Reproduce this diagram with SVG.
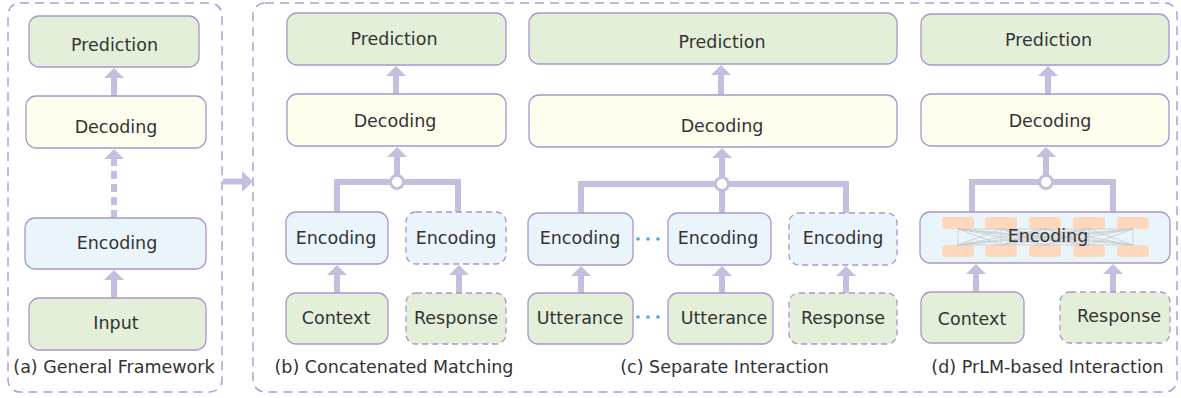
<svg xmlns="http://www.w3.org/2000/svg" width="1181" height="398" viewBox="0 0 1181 398">
<defs>
<style>
.panel{fill:none;stroke:#b39ddb;stroke-width:1.5;stroke-dasharray:9 6}
.box{stroke:#a996cc;stroke-width:1.3}
.dash{stroke-dasharray:6 4}
.g{fill:#e3efd9}
.y{fill:#fffdee}
.b{fill:#e9f4fb}
.t{font-family:"DejaVu Sans","Liberation Sans",sans-serif;font-size:17.5px;fill:#333;text-anchor:middle}
.shaft{fill:none;stroke:#c5bfdf;stroke-width:6}
.head{fill:#c5bfdf}
.node{fill:#fff;stroke:#c5bfdf;stroke-width:3}
.tok{fill:#fdd8bd}
.lnk{stroke:#c8c8c8;stroke-width:0.8}
.dot{fill:#4aa8d8}
</style>
</defs>
<rect class="panel" x="8" y="3" width="214" height="389" rx="12"/>
<rect class="panel" x="253" y="3" width="924" height="389" rx="12"/>

<g id="connectors">
<!-- big arrow between panels -->
<path class="shaft" d="M223,181.5H243"/>
<polygon class="head" points="242,171 242,192 253,181.5"/>
<!-- (a) -->
<path class="shaft" d="M114,77V96"/>
<polygon class="head" points="104,78 124,78 114,68"/>
<path class="shaft" d="M114,218V159" style="stroke-dasharray:8 5"/>
<polygon class="head" points="104,159 124,159 114,149"/>
<path class="shaft" d="M114,279V298"/>
<polygon class="head" points="104,280 124,280 114,270"/>
<!-- (b) -->
<path class="shaft" d="M396,75V94"/>
<polygon class="head" points="386,76 406,76 396,66"/>
<path class="shaft" d="M397,156V176"/>
<polygon class="head" points="387,157 407,157 397,147"/>
<path class="shaft" d="M337,212V182H458V212"/>
<circle class="node" cx="397" cy="182" r="6.5"/>
<path class="shaft" d="M337,274V293"/>
<polygon class="head" points="327,275 347,275 337,265"/>
<path class="shaft" d="M459,274V293"/>
<polygon class="head" points="449,275 469,275 459,265"/>
<!-- (c) -->
<path class="shaft" d="M721,74V95"/>
<polygon class="head" points="711,75 731,75 721,65"/>
<path class="shaft" d="M722,157V178"/>
<polygon class="head" points="712,158 732,158 722,148"/>
<path class="shaft" d="M581,213V184H846V213M722,190V213"/>
<circle class="node" cx="722" cy="184" r="6.5"/>
<path class="shaft" d="M581,275V293"/>
<polygon class="head" points="571,276 591,276 581,266"/>
<path class="shaft" d="M722,275V293"/>
<polygon class="head" points="712,276 732,276 722,266"/>
<path class="shaft" d="M846,275V293"/>
<polygon class="head" points="836,276 856,276 846,266"/>
<circle class="dot" cx="638" cy="239" r="1.8"/>
<circle class="dot" cx="648" cy="239" r="1.8"/>
<circle class="dot" cx="658" cy="239" r="1.8"/>
<circle class="dot" cx="638" cy="317" r="1.8"/>
<circle class="dot" cx="648" cy="317" r="1.8"/>
<circle class="dot" cx="658" cy="317" r="1.8"/>
<!-- (d) -->
<path class="shaft" d="M1048,75V94"/>
<polygon class="head" points="1038,76 1058,76 1048,66"/>
<path class="shaft" d="M1046,156V176"/>
<polygon class="head" points="1036,157 1056,157 1046,147"/>
<path class="shaft" d="M972,212V182H1113V212"/>
<circle class="node" cx="1046" cy="182" r="6.5"/>
<path class="shaft" d="M976,273V292"/>
<polygon class="head" points="966,274 986,274 976,264"/>
<path class="shaft" d="M1113,273V292"/>
<polygon class="head" points="1103,274 1123,274 1113,264"/>
</g>

<!-- (a) -->
<g id="a-prediction"><rect class="box g" x="29" y="16" width="170" height="51" rx="10"/><text class="t" x="114.5" y="51">Prediction</text></g>
<g id="a-decoding"><rect class="box y" x="26" y="96" width="180" height="52" rx="10"/><text class="t" x="116" y="133">Decoding</text></g>
<g id="a-encoding"><rect class="box b" x="25" y="218" width="181" height="51" rx="10"/><text class="t" x="117" y="249">Encoding</text></g>
<g id="a-input"><rect class="box g" x="29" y="298" width="177" height="52" rx="10"/><text class="t" x="116" y="329">Input</text></g>
<text class="t" x="114" y="373">(a) General Framework</text>

<!-- (b) -->
<g id="b-prediction"><rect class="box g" x="287" y="13" width="219" height="52" rx="10"/><text class="t" x="394" y="45">Prediction</text></g>
<g id="b-decoding"><rect class="box y" x="287" y="94" width="219" height="52" rx="10"/><text class="t" x="395" y="127">Decoding</text></g>
<g id="b-encoding1"><rect class="box b" x="286" y="212" width="102" height="52" rx="10"/><text class="t" x="336" y="244">Encoding</text></g>
<g id="b-encoding2"><rect class="box b dash" x="406" y="212" width="100" height="52" rx="10"/><text class="t" x="456" y="244">Encoding</text></g>
<g id="b-context"><rect class="box g" x="286" y="293" width="102" height="51" rx="10"/><text class="t" x="336" y="324">Context</text></g>
<g id="b-response"><rect class="box g dash" x="406" y="293" width="100" height="51" rx="10"/><text class="t" x="456" y="324">Response</text></g>
<text class="t" x="394" y="373">(b) Concatenated Matching</text>

<!-- (c) -->
<g id="c-prediction"><rect class="box g" x="529" y="13" width="368" height="51" rx="10"/><text class="t" x="722" y="48">Prediction</text></g>
<g id="c-decoding"><rect class="box y" x="529" y="95" width="368" height="52" rx="10"/><text class="t" x="722" y="132">Decoding</text></g>
<g id="c-encoding1"><rect class="box b" x="528" y="213" width="105" height="52" rx="10"/><text class="t" x="580" y="244">Encoding</text></g>
<g id="c-encoding2"><rect class="box b" x="668" y="213" width="103" height="52" rx="10"/><text class="t" x="718" y="244">Encoding</text></g>
<g id="c-encoding3"><rect class="box b dash" x="789" y="213" width="108" height="52" rx="10"/><text class="t" x="843" y="244">Encoding</text></g>
<g id="c-utterance1"><rect class="box g" x="528" y="293" width="105" height="51" rx="10"/><text class="t" x="580" y="324">Utterance</text></g>
<g id="c-utterance2"><rect class="box g" x="668" y="293" width="105" height="51" rx="10"/><text class="t" x="724" y="324">Utterance</text></g>
<g id="c-response"><rect class="box g dash" x="789" y="293" width="108" height="51" rx="10"/><text class="t" x="843" y="324">Response</text></g>
<text class="t" x="724.5" y="373">(c) Separate Interaction</text>

<!-- (d) -->
<g id="d-prediction"><rect class="box g" x="921" y="14" width="248" height="51" rx="10"/><text class="t" x="1048.5" y="46">Prediction</text></g>
<g id="d-decoding"><rect class="box y" x="921" y="94" width="248" height="52" rx="10"/><text class="t" x="1050" y="127">Decoding</text></g>
<g id="d-encoding">
<rect class="box b" x="920" y="212" width="250" height="51" rx="10"/>
<rect class="tok" x="942" y="217" width="32" height="12" rx="4"/>
<rect class="tok" x="985" y="217" width="32" height="12" rx="4"/>
<rect class="tok" x="1029" y="217" width="32" height="12" rx="4"/>
<rect class="tok" x="1073" y="217" width="32" height="12" rx="4"/>
<rect class="tok" x="1117" y="217" width="32" height="12" rx="4"/>
<rect class="tok" x="942" y="245" width="32" height="12" rx="4"/>
<rect class="tok" x="985" y="245" width="32" height="12" rx="4"/>
<rect class="tok" x="1029" y="245" width="32" height="12" rx="4"/>
<rect class="tok" x="1073" y="245" width="32" height="12" rx="4"/>
<rect class="tok" x="1117" y="245" width="32" height="12" rx="4"/>
<g class="lnk">
<line x1="958" y1="229" x2="958" y2="245"/><line x1="958" y1="229" x2="1001" y2="245"/><line x1="958" y1="229" x2="1045" y2="245"/><line x1="958" y1="229" x2="1089" y2="245"/><line x1="958" y1="229" x2="1133" y2="245"/>
<line x1="1001" y1="229" x2="958" y2="245"/><line x1="1001" y1="229" x2="1001" y2="245"/><line x1="1001" y1="229" x2="1045" y2="245"/><line x1="1001" y1="229" x2="1089" y2="245"/><line x1="1001" y1="229" x2="1133" y2="245"/>
<line x1="1045" y1="229" x2="958" y2="245"/><line x1="1045" y1="229" x2="1001" y2="245"/><line x1="1045" y1="229" x2="1045" y2="245"/><line x1="1045" y1="229" x2="1089" y2="245"/><line x1="1045" y1="229" x2="1133" y2="245"/>
<line x1="1089" y1="229" x2="958" y2="245"/><line x1="1089" y1="229" x2="1001" y2="245"/><line x1="1089" y1="229" x2="1045" y2="245"/><line x1="1089" y1="229" x2="1089" y2="245"/><line x1="1089" y1="229" x2="1133" y2="245"/>
<line x1="1133" y1="229" x2="958" y2="245"/><line x1="1133" y1="229" x2="1001" y2="245"/><line x1="1133" y1="229" x2="1045" y2="245"/><line x1="1133" y1="229" x2="1089" y2="245"/><line x1="1133" y1="229" x2="1133" y2="245"/>
<line x1="958" y1="229" x2="1133" y2="229"/><line x1="958" y1="245" x2="1133" y2="245"/>
</g>
<text class="t" x="1048" y="242">Encoding</text>
</g>
<g id="d-context"><rect class="box g" x="921" y="292" width="103" height="51" rx="10"/><text class="t" x="972" y="325">Context</text></g>
<g id="d-response"><rect class="box g dash" x="1060" y="292" width="110" height="51" rx="10"/><text class="t" x="1119" y="322">Response</text></g>
<text class="t" x="1047.5" y="373">(d) PrLM-based Interaction</text>
</svg>
